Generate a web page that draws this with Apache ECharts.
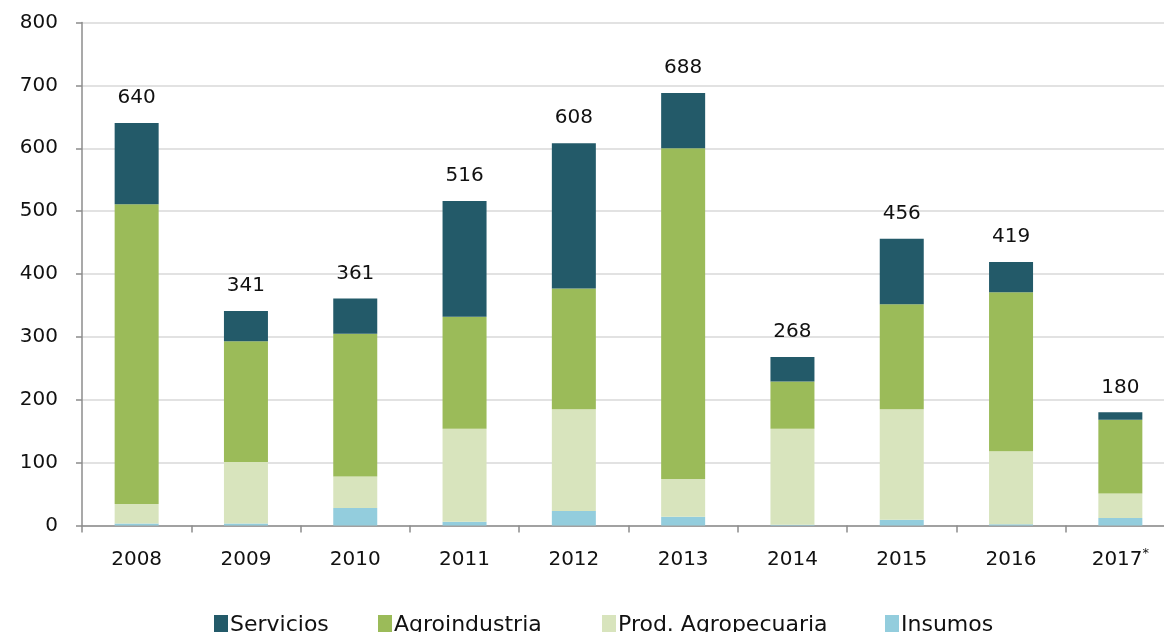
<!DOCTYPE html>
<html>
<head>
<meta charset="utf-8">
<script src="https://cdn.jsdelivr.net/npm/echarts@6/dist/echarts.min.js"></script>
<style>
  html, body { margin: 0; padding: 0; background: #fff; }
  #chart { width: 1164px; height: 632px; }
</style>
</head>
<body>
<div id="chart"></div>
<script>
// Years (2017 marked as preliminary)
const years = ['2008', '2009', '2010', '2011', '2012', '2013', '2014', '2015', '2016', '2017*'];

// Stacked components, bottom to top
const insumos       = [3, 3, 28, 6, 23, 14, 1, 9, 2, 12];
const prodAgro      = [31, 98, 50, 148, 162, 60, 153, 176, 116, 39];
const agroindustria = [477, 192, 227, 178, 192, 526, 75, 167, 253, 117];
const servicios     = [129, 48, 56, 184, 231, 88, 39, 104, 48, 12];

// Value axis ticks
const yTicks = { min: 0, max: 800, step: 100 };

// Legend order as displayed
const legendNames = ['Servicios', 'Agroindustria', 'Prod. Agropecuaria', 'Insumos'];

// Yearly totals shown above each column
const totals = years.map((_, i) => insumos[i] + prodAgro[i] + agroindustria[i] + servicios[i]);

const FONT = 'DejaVu Sans';
const chart = echarts.init(document.getElementById('chart'), null, { renderer: 'canvas' });

const barW = 44;
function seriesOf(name, data, color, withTotal) {
  const s = {
    name: name,
    type: 'bar',
    stack: 'total',
    data: data,
    barWidth: barW,
    itemStyle: { color: color },
    emphasis: { disabled: true },
    animation: false
  };
  if (withTotal) {
    s.label = {
      show: true,
      position: 'top',
      distance: 15,
      fontFamily: FONT,
      fontSize: 20,
      color: '#111',
      formatter: p => String(totals[p.dataIndex])
    };
  }
  return s;
}

// One legend block per entry so each swatch sits at its own spot along the bottom row
const legendLeft = [209, 373, 597, 880];
const legends = legendNames.map((name, i) => ({
  data: [name],
  left: legendLeft[i],
  top: 609,
  itemWidth: 14,
  itemHeight: 20,
  itemGap: 0,
  icon: 'rect',
  selectedMode: false,
  textStyle: { fontFamily: FONT, fontSize: 22, color: '#111', padding: [0, 0, 0, -3] }
}));

chart.setOption({
  backgroundColor: '#ffffff',
  animation: false,
  grid: { left: 82, top: 22.5, width: 1093, height: 503, containLabel: false, outerBoundsMode: 'none' },
  legend: legends,
  xAxis: {
    type: 'category',
    data: years,
    boundaryGap: true,
    axisLine: { show: true, lineStyle: { color: '#8c8c8c', width: 1.5 } },
    axisTick: { show: true, length: 7, interval: 0, lineStyle: { color: '#8c8c8c', width: 1.5 } },
    axisLabel: {
      interval: 0,
      margin: 22,
      fontFamily: FONT,
      fontSize: 20,
      lineHeight: 24,
      color: '#111',
      formatter: v => v.endsWith('*') ? '{y|' + v.slice(0, -1) + '}{sup|*}' : v,
      rich: {
        y: { fontFamily: FONT, fontSize: 20, lineHeight: 24, color: '#111' },
        sup: { fontFamily: FONT, fontSize: 13, lineHeight: 13, color: '#111', verticalAlign: 'top' }
      }
    },
    splitLine: { show: false }
  },
  yAxis: {
    type: 'value',
    min: yTicks.min,
    max: yTicks.max,
    interval: yTicks.step,
    axisLine: { show: true, lineStyle: { color: '#8c8c8c', width: 1.5 } },
    axisTick: { show: true, length: 6, lineStyle: { color: '#8c8c8c', width: 1.5 } },
    axisLabel: { margin: 24, fontFamily: FONT, fontSize: 20, color: '#111' },
    splitLine: { show: true, lineStyle: { color: '#d9d9d9', width: 1.5 } }
  },
  series: [
    seriesOf('Insumos', insumos, '#93CDDD', false),
    seriesOf('Prod. Agropecuaria', prodAgro, '#D8E4BD', false),
    seriesOf('Agroindustria', agroindustria, '#9BBB59', false),
    seriesOf('Servicios', servicios, '#235A69', true)
  ]
});
</script>
</body>
</html>
